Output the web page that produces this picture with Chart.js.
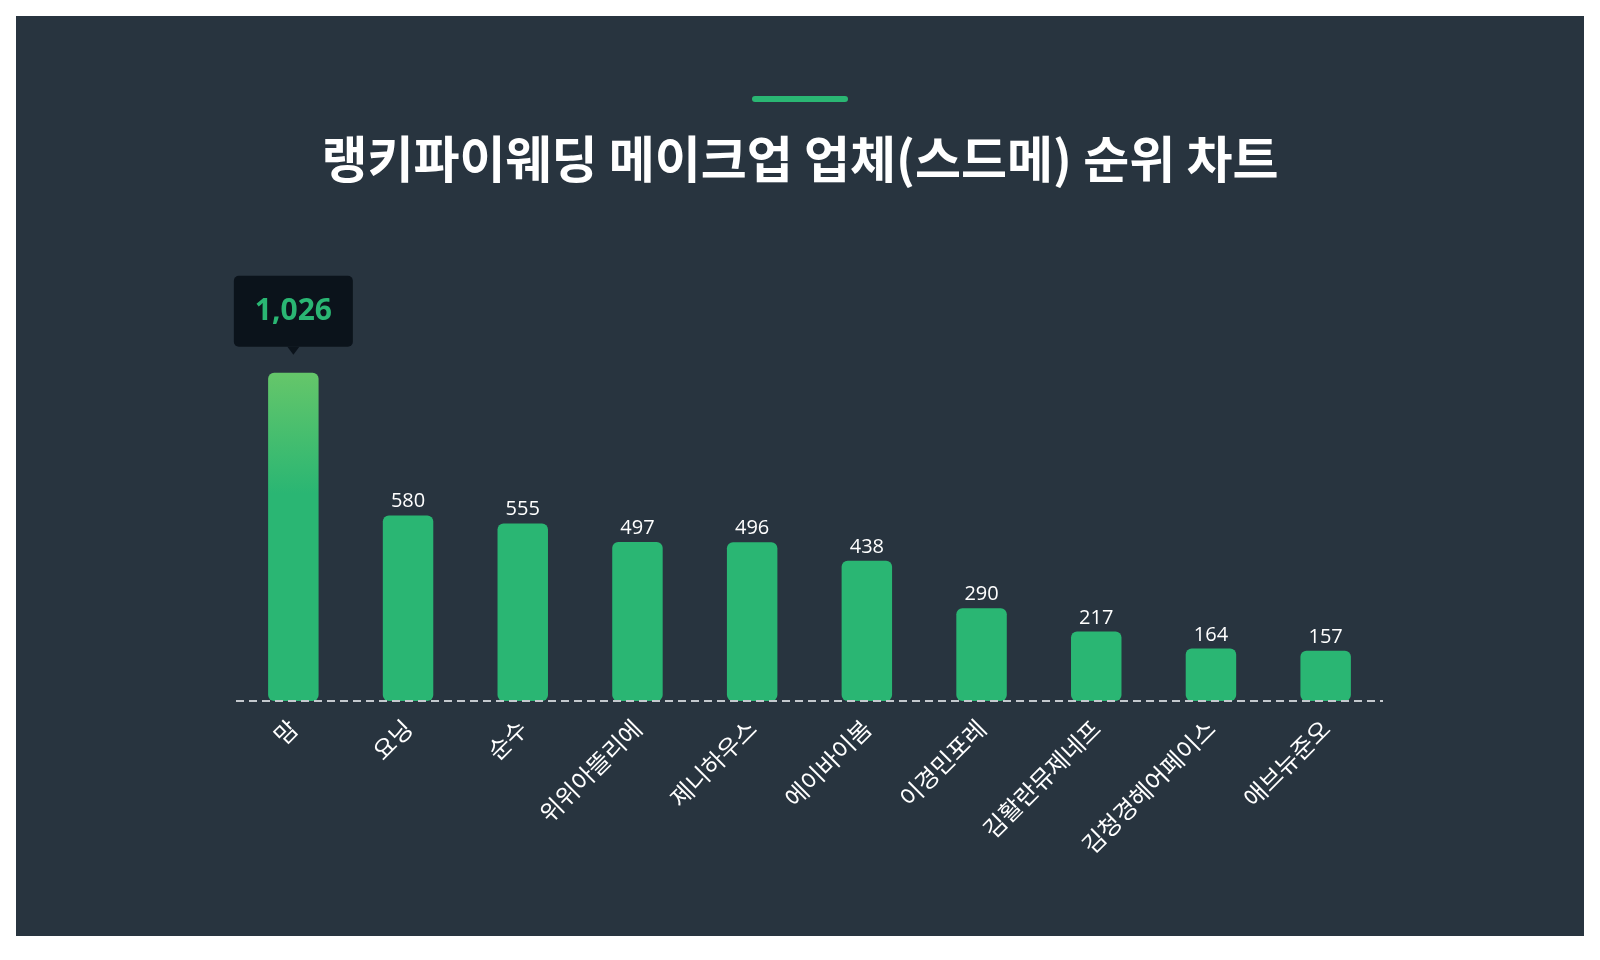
<!DOCTYPE html>
<html>
<head>
<meta charset="utf-8">
<script src="https://cdn.jsdelivr.net/npm/chart.js@4/dist/chart.umd.min.js"></script>
<style>
  html, body { margin: 0; padding: 0; background: #ffffff; }
  #wrap { position: absolute; left: 0; top: 0; width: 1600px; height: 960px; }
</style>
</head>
<body>
<div id="wrap"><canvas id="myChart" width="1600" height="960"></canvas></div>
<script>
// 업체명과 점수
const labels = ['맘', '요닝', '순수', '위위아뜰리에', '제니하우스', '에이바이봄', '이경민포레', '김활란뮤제네프', '김청경헤어페이스', '애브뉴준오'];
const scores = [1026, 580, 555, 497, 496, 438, 290, 217, 164, 157];
const titleText = '랭키파이웨딩 메이크업 업체(스드메) 순위 차트';

const GREEN = '#2ab673';
const LIGHT = '#90d263';
const FONT = "'Noto Sans CJK KR', 'Noto Sans', sans-serif";
const NUM_FONT = "'Open Sans', 'Noto Sans', sans-serif";

// 배경, 제목, 기준선, 값 라벨, 1위 말풍선
const decor = {
	id: 'decor',
	beforeDraw(chart) {
		const c = chart.ctx;
		c.save();
		c.fillStyle = '#28343f';
		c.fillRect(16, 16, 1568, 920);
		// 제목 위 초록 막대
		c.fillStyle = GREEN;
		c.beginPath();
		c.roundRect(752, 96, 96, 6, 3);
		c.fill();
		c.fillStyle = '#ffffff';
		c.font = 'bold 50px ' + FONT;
		c.textAlign = 'center';
		c.textBaseline = 'middle';
		c.fillText(titleText, 800, 159);
		c.restore();
	},
	afterDatasetsDraw(chart) {
		const c = chart.ctx;
		const area = chart.chartArea;
		const y0 = chart.scales.y.getPixelForValue(0);
		c.save();
		// 점선 기준선
		c.strokeStyle = '#c4c9ce';
		c.lineWidth = 2;
		c.setLineDash([8, 5]);
		c.beginPath();
		c.moveTo(area.left, y0);
		c.lineTo(area.right, y0);
		c.stroke();
		c.setLineDash([]);

		const bars = chart.getDatasetMeta(0).data;
		bars.forEach((b, i) => {
			if (i === 0) {
				// 말풍선
				const w = 119, h = 71;
				const bottom = b.y - 26;
				c.fillStyle = '#0b131b';
				c.beginPath();
				c.roundRect(b.x - w / 2, bottom - h, w, h, 5);
				c.fill();
				c.beginPath();
				c.moveTo(b.x - 6, bottom);
				c.lineTo(b.x + 6, bottom);
				c.lineTo(b.x, bottom + 8);
				c.closePath();
				c.fill();
				c.fillStyle = GREEN;
				c.font = 'bold 30px ' + NUM_FONT;
				c.textAlign = 'center';
				c.textBaseline = 'middle';
				c.fillText(scores[i].toLocaleString('en-US'), b.x, bottom - h / 2);
			} else {
				c.fillStyle = '#ffffff';
				c.font = '20px ' + NUM_FONT;
				c.textAlign = 'center';
				c.textBaseline = 'alphabetic';
				c.fillText(scores[i].toLocaleString('en-US'), b.x, b.y - 8);
			}
		});
		c.restore();
	}
};

function barColor(ctx) {
	if (ctx.dataIndex !== 0) return GREEN;
	const area = ctx.chart.chartArea;
	if (!area) return GREEN;
	const el = ctx.chart.getDatasetMeta(0).data[0];
	const top = el && el.y ? el.y : area.top;
	const g = ctx.chart.ctx.createLinearGradient(0, top, 0, area.bottom);
	g.addColorStop(0, LIGHT);
	g.addColorStop(0.5, GREEN);
	g.addColorStop(1, GREEN);
	return g;
}

new Chart(document.getElementById('myChart').getContext('2d'), {
	type: 'bar',
	data: {
		labels: labels,
		datasets: [{
			data: scores,
			backgroundColor: barColor,
			borderRadius: 6,
			borderSkipped: false,
			categoryPercentage: 1,
			barPercentage: 0.44
		}]
	},
	options: {
		responsive: false,
		animation: false,
		layout: { padding: { left: 236, right: 217, top: 285, bottom: 0 } },
		plugins: {
			legend: { display: false },
			tooltip: { enabled: false }
		},
		scales: {
			x: {
				grid: { display: false },
				border: { display: false },
				ticks: {
					color: '#ffffff',
					font: { family: FONT, size: 24 },
					maxRotation: 45,
					minRotation: 45,
					padding: 5,
					autoSkip: false
				},
				afterFit(s) { s.height = 259; }
			},
			y: {
				display: false,
				min: 0,
				max: 1300
			}
		}
	},
	plugins: [decor]
});
</script>
</body>
</html>
